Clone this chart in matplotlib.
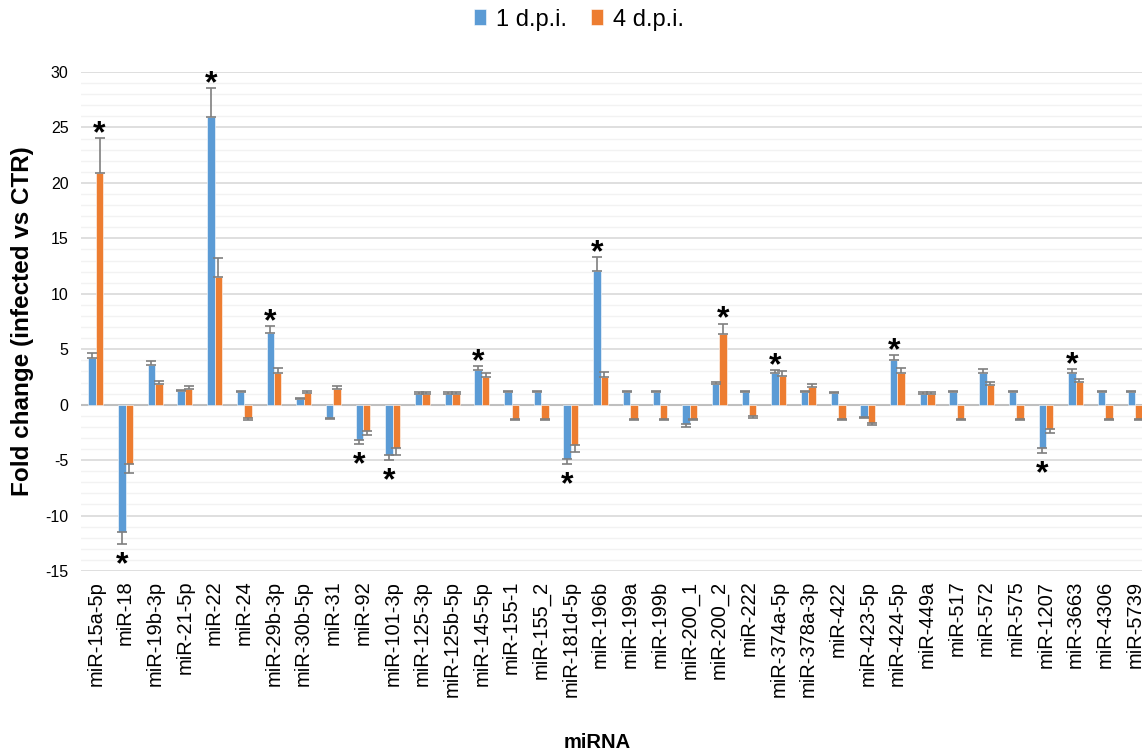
import matplotlib.pyplot as plt
import numpy as np
from matplotlib.ticker import MultipleLocator

plt.rcParams['font.family'] = ['Liberation Sans', 'DejaVu Sans']
plt.rcParams['axes.unicode_minus'] = False

mirnas = ["miR-15a-5p", "miR-18", "miR-19b-3p", "miR-21-5p", "miR-22", "miR-24",
          "miR-29b-3p", "miR-30b-5p", "miR-31", "miR-92", "miR-101-3p", "miR-125-3p",
          "miR-125b-5p", "miR-145-5p", "miR-155-1", "miR-155_2", "miR-181d-5p", "miR-196b",
          "miR-199a", "miR-199b", "miR-200_1", "miR-200_2", "miR-222", "miR-374a-5p",
          "miR-378a-3p", "miR-422", "miR-423-5p", "miR-424-5p", "miR-449a", "miR-517",
          "miR-572", "miR-575", "miR-1207", "miR-3663", "miR-4306", "miR-5739"]

# fold change, 1 d.p.i.
fc_1dpi = [4.25, -11.45, 3.55, 1.2, 25.96, 1.15, 6.48, 0.55, -1.2, -3.22, -4.58, 1.0,
           1.0, 3.13, 1.15, 1.15, -4.88, 12.08, 1.15, 1.15, -1.78, 1.9, 1.15, 2.83,
           1.15, 1.08, -1.11, 4.04, 1.0, 1.15, 2.89, 1.15, -3.92, 2.83, 1.15, 1.15]
err_1dpi = [0.45, 1.1, 0.35, 0.1, 2.6, 0.1, 0.63, 0.05, 0.1, 0.36, 0.45, 0.1,
            0.1, 0.39, 0.12, 0.12, 0.51, 1.23, 0.12, 0.12, 0.21, 0.15, 0.12, 0.3,
            0.12, 0.1, 0.12, 0.45, 0.1, 0.12, 0.33, 0.12, 0.42, 0.36, 0.12, 0.12]

# fold change, 4 d.p.i.
fc_4dpi = [20.87, -5.33, 1.87, 1.45, 11.5, -1.2, 2.83, 1.05, 1.45, -2.38, -3.92, 1.0,
           1.0, 2.47, -1.27, -1.27, -3.67, 2.53, -1.3, -1.3, -1.3, 6.36, -1.05, 2.62,
           1.57, -1.3, -1.63, 2.83, 1.0, -1.27, 1.75, -1.3, -2.23, 2.02, -1.3, -1.3]
err_4dpi = [3.2, 0.8, 0.3, 0.25, 1.75, 0.15, 0.48, 0.2, 0.25, 0.39, 0.6, 0.15,
            0.15, 0.39, 0.12, 0.12, 0.58, 0.42, 0.1, 0.1, 0.1, 0.96, 0.12, 0.45,
            0.27, 0.05, 0.24, 0.48, 0.15, 0.1, 0.3, 0.1, 0.33, 0.33, 0.1, 0.1]

# significance marks
sig_1dpi = [0, 1, 0, 0, 1, 0, 1, 0, 0, 1, 1, 0, 0, 1, 0, 0, 1, 1,
            0, 0, 0, 0, 0, 1, 0, 0, 0, 1, 0, 0, 0, 0, 1, 1, 0, 0]
sig_4dpi = [1, 0, 0, 0, 0, 0, 0, 0, 0, 0, 0, 0, 0, 0, 0, 0, 0, 0,
            0, 0, 0, 1, 0, 0, 0, 0, 0, 0, 0, 0, 0, 0, 0, 0, 0, 0]

blue = "#5B9BD5"
orange = "#ED7D31"

fig = plt.figure(figsize=(11.42, 7.55), dpi=100)
ax = fig.add_axes([0.0709, 0.2437, 0.936, 0.6609])

ind = np.arange(len(mirnas))
width = 0.25


def one_sided(vals, errs):
    lo = [e if v < 0 else 0 for v, e in zip(vals, errs)]
    hi = [e if v >= 0 else 0 for v, e in zip(vals, errs)]
    return [lo, hi]


err_kw = dict(ecolor="#7f7f7f", elinewidth=1.2, capsize=3.5, capthick=1.2)
ax.bar(ind + 0.5 - width / 2, fc_1dpi, width, color=blue, edgecolor="white", linewidth=0.4,
       yerr=one_sided(fc_1dpi, err_1dpi), error_kw=err_kw, label="1 d.p.i.", zorder=3)
ax.bar(ind + 0.5 + width / 2, fc_4dpi, width, color=orange, edgecolor="white", linewidth=0.4,
       yerr=one_sided(fc_4dpi, err_4dpi), error_kw=err_kw, label="4 d.p.i.", zorder=3)

# asterisks
for series, vals, errs, shift in [(sig_1dpi, fc_1dpi, err_1dpi, -width / 2),
                                  (sig_4dpi, fc_4dpi, err_4dpi, width / 2)]:
    for i, s in enumerate(series):
        if not s:
            continue
        x = i + 0.5 + shift
        if vals[i] >= 0:
            ax.annotate("*", xy=(x, vals[i] + errs[i]), xytext=(0, -3), textcoords="offset points",
                        ha="center", va="baseline", fontsize=23, fontweight="bold")
        else:
            ax.annotate("*", xy=(x, vals[i] - errs[i]), xytext=(0, -21), textcoords="offset points",
                        ha="center", va="baseline", fontsize=23, fontweight="bold")

ax.set_xlim(0, len(mirnas))
ax.set_ylim(-15, 30)
ax.yaxis.set_major_locator(MultipleLocator(5))
ax.yaxis.set_minor_locator(MultipleLocator(1))
ax.grid(axis="y", which="major", color="#d9d9d9", linewidth=1.2, zorder=0)
ax.grid(axis="y", which="minor", color="#f2f2f2", linewidth=1.0, zorder=0)
ax.axhline(0, color="#bfbfbf", linewidth=1.5, zorder=2)
for sp in ax.spines.values():
    sp.set_visible(False)

ax.set_xticks(ind + 0.5)
ax.set_xticklabels(mirnas, rotation=90, fontsize=14.5)
ax.tick_params(axis="x", length=0, pad=7)
ax.tick_params(axis="y", which="both", length=0, labelsize=11.5, pad=9)

ax.set_ylabel("Fold change (infected vs CTR)", fontsize=17.5, fontweight="bold")
ax.yaxis.set_label_coords(-0.044, 0.5)
fig.text(0.523, 0.016, "miRNA", fontsize=14.5, fontweight="bold", ha="center", va="center")

leg = ax.legend(loc="center", bbox_to_anchor=(0.507, 0.974), bbox_transform=fig.transFigure,
                ncol=2, frameon=False, fontsize=17, handlelength=0.5, handleheight=0.65,
                handletextpad=0.45, columnspacing=1.0)

plt.savefig("out.png", dpi=100)
